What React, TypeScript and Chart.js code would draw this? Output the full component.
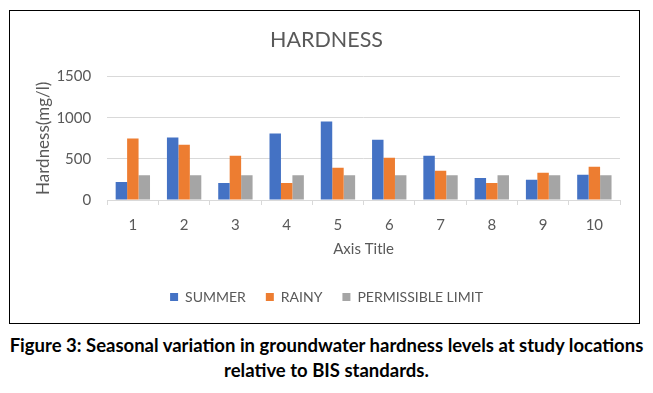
import React, { useEffect, useRef } from "react";
import { Chart, registerables } from "chart.js";

Chart.register(...registerables);

const categories = ["1", "2", "3", "4", "5", "6", "7", "8", "9", "10"];
const summer = [220, 759, 208, 808, 955, 734, 539, 269, 245, 306];
const rainy = [747, 673, 539, 208, 392, 514, 355, 208, 330, 404];
const permissible = [300, 300, 300, 300, 300, 300, 300, 300, 300, 300];
const yTicks = [0, 500, 1000, 1500];

const FONT = "Lato, 'Liberation Sans', sans-serif";
const TXT = "#595959";

export default function App() {
  const ref = useRef<HTMLCanvasElement | null>(null);
  useEffect(() => {
    if (!ref.current) return;
    const chart = new Chart(ref.current, {
      type: "bar",
      data: {
        labels: categories,
        datasets: [
          { label: "SUMMER", data: summer, backgroundColor: "#4472C4" },
          { label: "RAINY", data: rainy, backgroundColor: "#ED7D31" },
          { label: "PERMISSIBLE LIMIT", data: permissible, backgroundColor: "#A5A5A5" },
        ],
      },
      options: {
        responsive: false,
        animation: false,
        layout: { padding: { left: 23, right: 19, top: 0, bottom: 9 } },
        datasets: { bar: { barPercentage: 1.0, categoryPercentage: 0.67 } },
        plugins: {
          title: {
            display: true,
            text: "HARDNESS",
            color: TXT,
            font: { family: FONT, size: 21.5, weight: "normal", lineHeight: 1.1 },
            padding: { top: 17, bottom: 25 },
          },
          legend: {
            position: "bottom",
            labels: {
              color: TXT,
              font: { family: FONT, size: 14 },
              boxWidth: 8,
              boxHeight: 8,
              padding: 20,
            },
          },
          tooltip: { enabled: false },
        },
        scales: {
          x: {
            offset: true,
            grid: {
              offset: true,
              drawOnChartArea: false,
              drawTicks: true,
              tickLength: 5,
              color: "#D9D9D9",
            },
            border: { display: true, color: "#D9D9D9" },
            ticks: { color: TXT, font: { family: FONT, size: 15 }, padding: 11 },
            title: {
              display: true,
              text: "Axis Title",
              color: TXT,
              font: { family: FONT, size: 15, lineHeight: 1 },
              padding: { top: -3, bottom: 13 },
            },
          },
          y: {
            min: 0,
            max: 1500,
            afterBuildTicks: (axis: any) => {
              axis.ticks = yTicks.map((v) => ({ value: v }));
            },
            grid: { color: "#D9D9D9", drawTicks: false },
            border: { display: false },
            ticks: {
              color: TXT,
              font: { family: FONT, size: 15 },
              padding: 16,
              callback: (v: any) => String(v),
            },
            title: {
              display: true,
              text: "Hardness(mg/l)",
              color: TXT,
              font: { family: FONT, size: 17 },
              padding: { top: 0, bottom: -13 },
            },
          },
        },
      },
    });
    return () => chart.destroy();
  }, []);

  return (
    <div style={{ position: "fixed", left: 0, top: 0, width: 653, height: 393, background: "#fff" }}>
      <div
        style={{
          position: "absolute",
          left: 9,
          top: 10,
          width: 631,
          height: 314,
          border: "1px solid #000",
          boxSizing: "border-box",
        }}
      >
        <canvas ref={ref} width={629} height={312} style={{ display: "block" }} />
      </div>
      <div
        style={{
          position: "absolute",
          left: 0,
          top: 333,
          width: 653,
          textAlign: "center",
          fontFamily: FONT,
          fontWeight: "bold",
          fontSize: 18.5,
          lineHeight: "25px",
          color: "#000",
          whiteSpace: "nowrap",
        }}
      >
        Figure 3: Seasonal variation in groundwater hardness levels at study locations
        <br />
        relative to BIS standards.
      </div>
    </div>
  );
}
